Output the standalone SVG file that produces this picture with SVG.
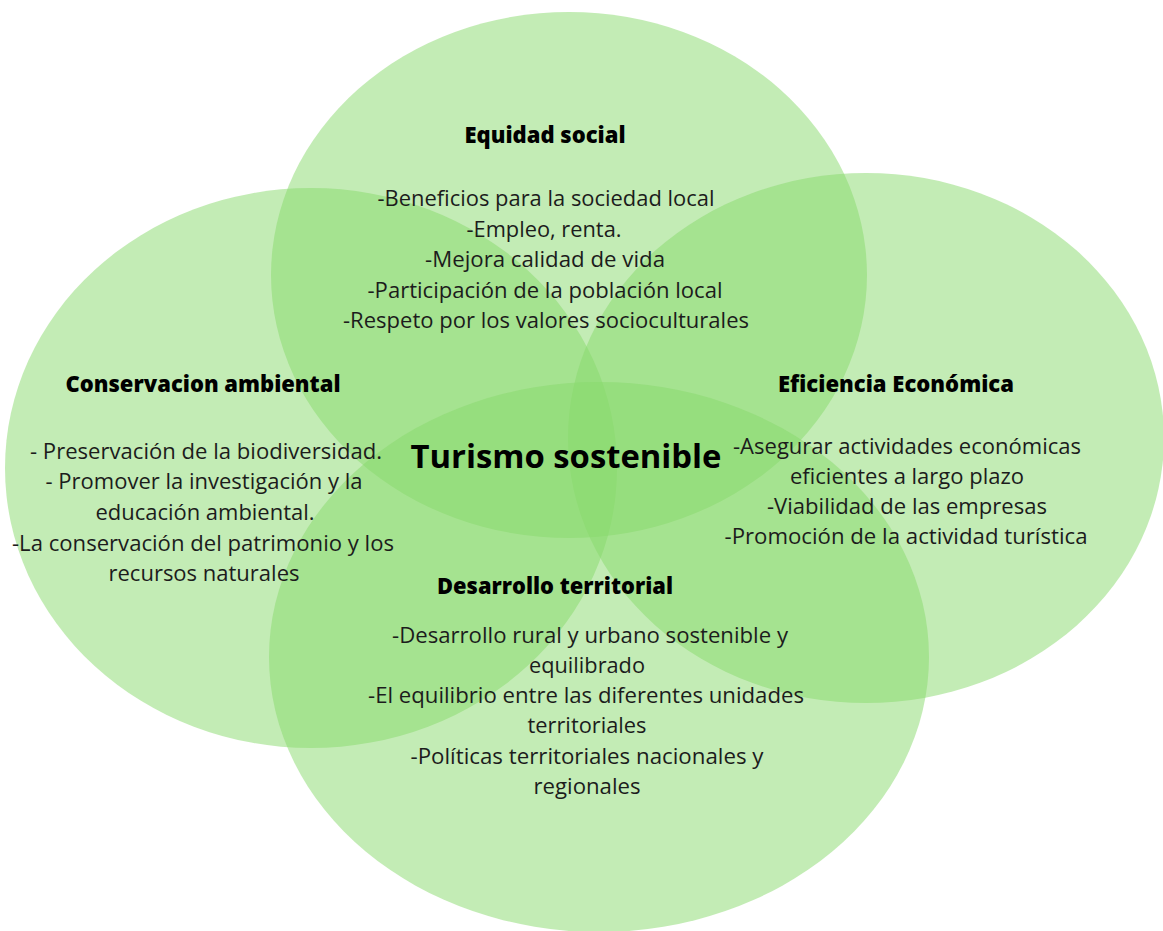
<svg xmlns="http://www.w3.org/2000/svg" width="1163" height="931" viewBox="0 0 1163 931">
<style>
.blob{fill:#88d96b;fill-opacity:0.5}
text{font-family:"Open Sans","Liberation Sans",sans-serif;text-anchor:middle;fill:#1c1c1c}
.h{font-size:22px;font-weight:800;fill:#000}
.b{font-size:22px}
.c{font-size:33px;font-weight:700;fill:#000}
</style>
<rect width="1163" height="931" fill="#ffffff"/>
<g id="shapes">
<ellipse id="top" class="blob" cx="569" cy="275" rx="298" ry="263"/>
<ellipse id="left" class="blob" cx="311" cy="468" rx="306" ry="280"/>
<ellipse id="right" class="blob" cx="866" cy="438" rx="298" ry="265"/>
<ellipse id="bottom" class="blob" cx="599" cy="657" rx="330" ry="275"/>
</g>
<g id="equidad">
<text class="h" x="545" y="143" textLength="161" lengthAdjust="spacingAndGlyphs">Equidad social</text>
<text class="b" x="546" y="206" textLength="337" lengthAdjust="spacingAndGlyphs">-Beneficios para la sociedad local</text>
<text class="b" x="544" y="237" textLength="155" lengthAdjust="spacingAndGlyphs">-Empleo, renta.</text>
<text class="b" x="545" y="267" textLength="240" lengthAdjust="spacingAndGlyphs">-Mejora calidad de vida</text>
<text class="b" x="545" y="298" textLength="355" lengthAdjust="spacingAndGlyphs">-Participación de la población local</text>
<text class="b" x="546" y="328" textLength="406" lengthAdjust="spacingAndGlyphs">-Respeto por los valores socioculturales</text>
</g>
<g id="conservacion">
<text class="h" x="203" y="392" textLength="275" lengthAdjust="spacingAndGlyphs">Conservacion ambiental</text>
<text class="b" x="206" y="459" textLength="352" lengthAdjust="spacingAndGlyphs">- Preservación de la biodiversidad.</text>
<text class="b" x="204" y="489" textLength="317" lengthAdjust="spacingAndGlyphs">- Promover la investigación y la</text>
<text class="b" x="205" y="520" textLength="219" lengthAdjust="spacingAndGlyphs">educación ambiental.</text>
<text class="b" x="203" y="551" textLength="382" lengthAdjust="spacingAndGlyphs">-La conservación del patrimonio y los</text>
<text class="b" x="204" y="581" textLength="191" lengthAdjust="spacingAndGlyphs">recursos naturales</text>
</g>
<g id="centro">
<text class="c" x="566" y="468" textLength="311" lengthAdjust="spacingAndGlyphs">Turismo sostenible</text>
</g>
<g id="eficiencia">
<text class="h" x="896" y="392" textLength="236" lengthAdjust="spacingAndGlyphs">Eficiencia Económica</text>
<text class="b" x="907" y="454" textLength="348" lengthAdjust="spacingAndGlyphs">-Asegurar actividades económicas</text>
<text class="b" x="907" y="484" textLength="234" lengthAdjust="spacingAndGlyphs">eficientes a largo plazo</text>
<text class="b" x="907" y="514" textLength="280" lengthAdjust="spacingAndGlyphs">-Viabilidad de las empresas</text>
<text class="b" x="906" y="544" textLength="363" lengthAdjust="spacingAndGlyphs">-Promoción de la actividad turística</text>
</g>
<g id="desarrollo">
<text class="h" x="555" y="594" textLength="236" lengthAdjust="spacingAndGlyphs">Desarrollo territorial</text>
<text class="b" x="590" y="643" textLength="396" lengthAdjust="spacingAndGlyphs">-Desarrollo rural y urbano sostenible y</text>
<text class="b" x="587" y="673" textLength="116" lengthAdjust="spacingAndGlyphs">equilibrado</text>
<text class="b" x="586" y="703" textLength="436" lengthAdjust="spacingAndGlyphs">-El equilibrio entre las diferentes unidades</text>
<text class="b" x="587" y="733" textLength="119" lengthAdjust="spacingAndGlyphs">territoriales</text>
<text class="b" x="587" y="764" textLength="353" lengthAdjust="spacingAndGlyphs">-Políticas territoriales nacionales y</text>
<text class="b" x="587" y="794" textLength="107" lengthAdjust="spacingAndGlyphs">regionales</text>
</g>
<g id="connectors"/>
</svg>
